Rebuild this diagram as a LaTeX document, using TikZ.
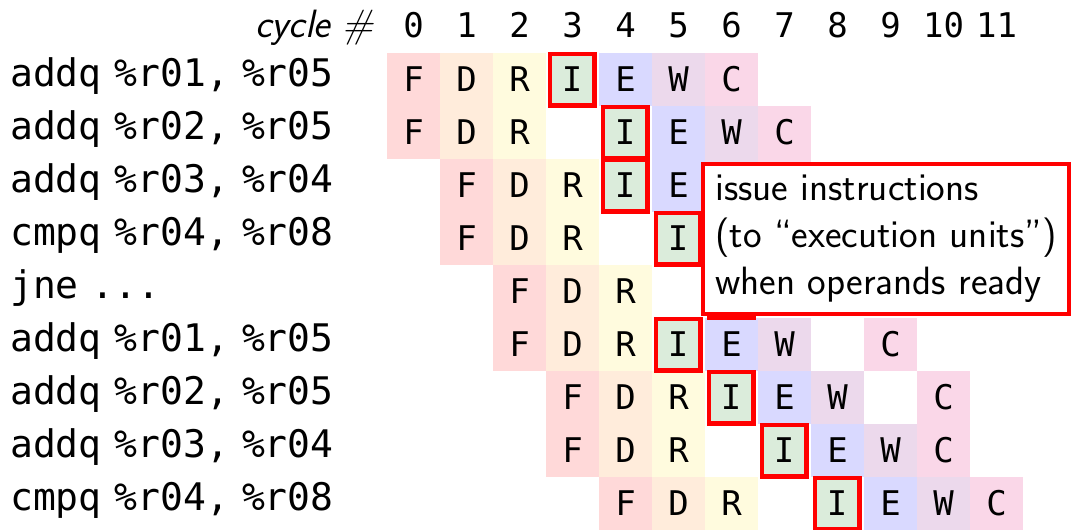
\documentclass[tikz,border=0pt]{standalone}
\usepackage{fontspec}
\newfontfamily\monof{DejaVu Sans Mono}
\newcommand{\gap}{\hspace{13pt}}
\definecolor{cF}{RGB}{255,217,217}
\definecolor{cD}{RGB}{255,236,219}
\definecolor{cR}{RGB}{255,251,222}
\definecolor{cI}{RGB}{219,236,219}
\definecolor{cE}{RGB}{217,217,255}
\definecolor{cW}{RGB}{236,217,236}
\definecolor{cC}{RGB}{250,215,232}
\tikzset{
  cell/.style={minimum width=53pt, minimum height=53pt, inner sep=0pt, outer sep=0pt,
    font=\monof\fontsize{34}{34}\selectfont, text height=24.5pt, text depth=0pt},
  icell/.style={cell, fill=cI, draw=red, line width=4.5pt, minimum width=44.5pt, minimum height=51.5pt},
  hdr/.style={anchor=base, inner sep=0pt, font=\monof\fontsize{34}{34}\selectfont},
  lbl/.style={anchor=base west, inner sep=0pt, font=\monof\fontsize{38}{38}\selectfont},
  callout/.style={draw=red, fill=white, line width=4pt, inner sep=0pt, outer sep=0pt,
    minimum width=366pt, minimum height=150pt, align=left,
    font=\sffamily\fontsize{39.5}{47}\selectfont}
}
\begin{document}
\begin{tikzpicture}[x=1pt,y=-1pt]
\useasboundingbox (0,0) rectangle (1071,530);
% header
\node[anchor=base east, inner sep=0pt, font=\sffamily\itshape\fontsize{39.5}{39.5}\selectfont] (cyc) at (374,37) {cycle \#};
\foreach \c in {0,...,11} {
  \node[hdr] (h\c) at ({413.5+53*\c},37) {\c};
}
% instruction labels
\foreach \r/\t in {0/{addq\gap\%r01,\gap\%r05},1/{addq\gap\%r02,\gap\%r05},2/{addq\gap\%r03,\gap\%r04},3/{cmpq\gap\%r04,\gap\%r08},
  4/{jne\gap...},5/{addq\gap\%r01,\gap\%r05},6/{addq\gap\%r02,\gap\%r05},7/{addq\gap\%r03,\gap\%r04},8/{cmpq\gap\%r04,\gap\%r08}} {
  \node[lbl] (l\r) at (10,{86+53*\r}) {\t};
}
% ordinary cells
\foreach \r/\c/\s in {0/0/F,0/1/D,0/2/R,0/4/E,0/5/W,0/6/C,
  1/0/F,1/1/D,1/2/R,1/5/E,1/6/W,1/7/C,
  2/1/F,2/2/D,2/3/R,2/5/E,
  3/1/F,3/2/D,3/3/R,
  4/2/F,4/3/D,4/4/R,
  5/2/F,5/3/D,5/4/R,5/6/E,5/7/W,5/9/C,
  6/3/F,6/4/D,6/5/R,6/7/E,6/8/W,6/10/C,
  7/3/F,7/4/D,7/5/R,7/8/E,7/9/W,7/10/C,
  8/4/F,8/5/D,8/6/R,8/9/E,8/10/W,8/11/C} {
  \node[cell, fill=c\s] (cell-\r-\c) at ({413.5+53*\c},{79.5+53*\r}) {\s};
}
% cells hidden behind the callout (only their edges show)
\foreach \r/\c/\s in {2/6/W,2/7/C} {
  \node[cell, fill=c\s] (cell-\r-\c) at ({413.5+53*\c},{79.5+53*\r}) {};
}
% issue cells
\foreach \r/\c in {0/3,1/4,2/4,3/5,5/5,6/6,7/7,8/8} {
  \node[icell] (cell-\r-\c) at ({413.5-0.5+53*\c},{79.5+53*\r}) {I};
}
\node[icell] (cell-4-6) at ({413.5-0.5+53*6},{79.5+53*4}) {};
% callout
\node[callout, anchor=north west] (note) at (703,164) {issue instructions\\(to “execution units”)\\when operands ready};
\end{tikzpicture}
\end{document}
